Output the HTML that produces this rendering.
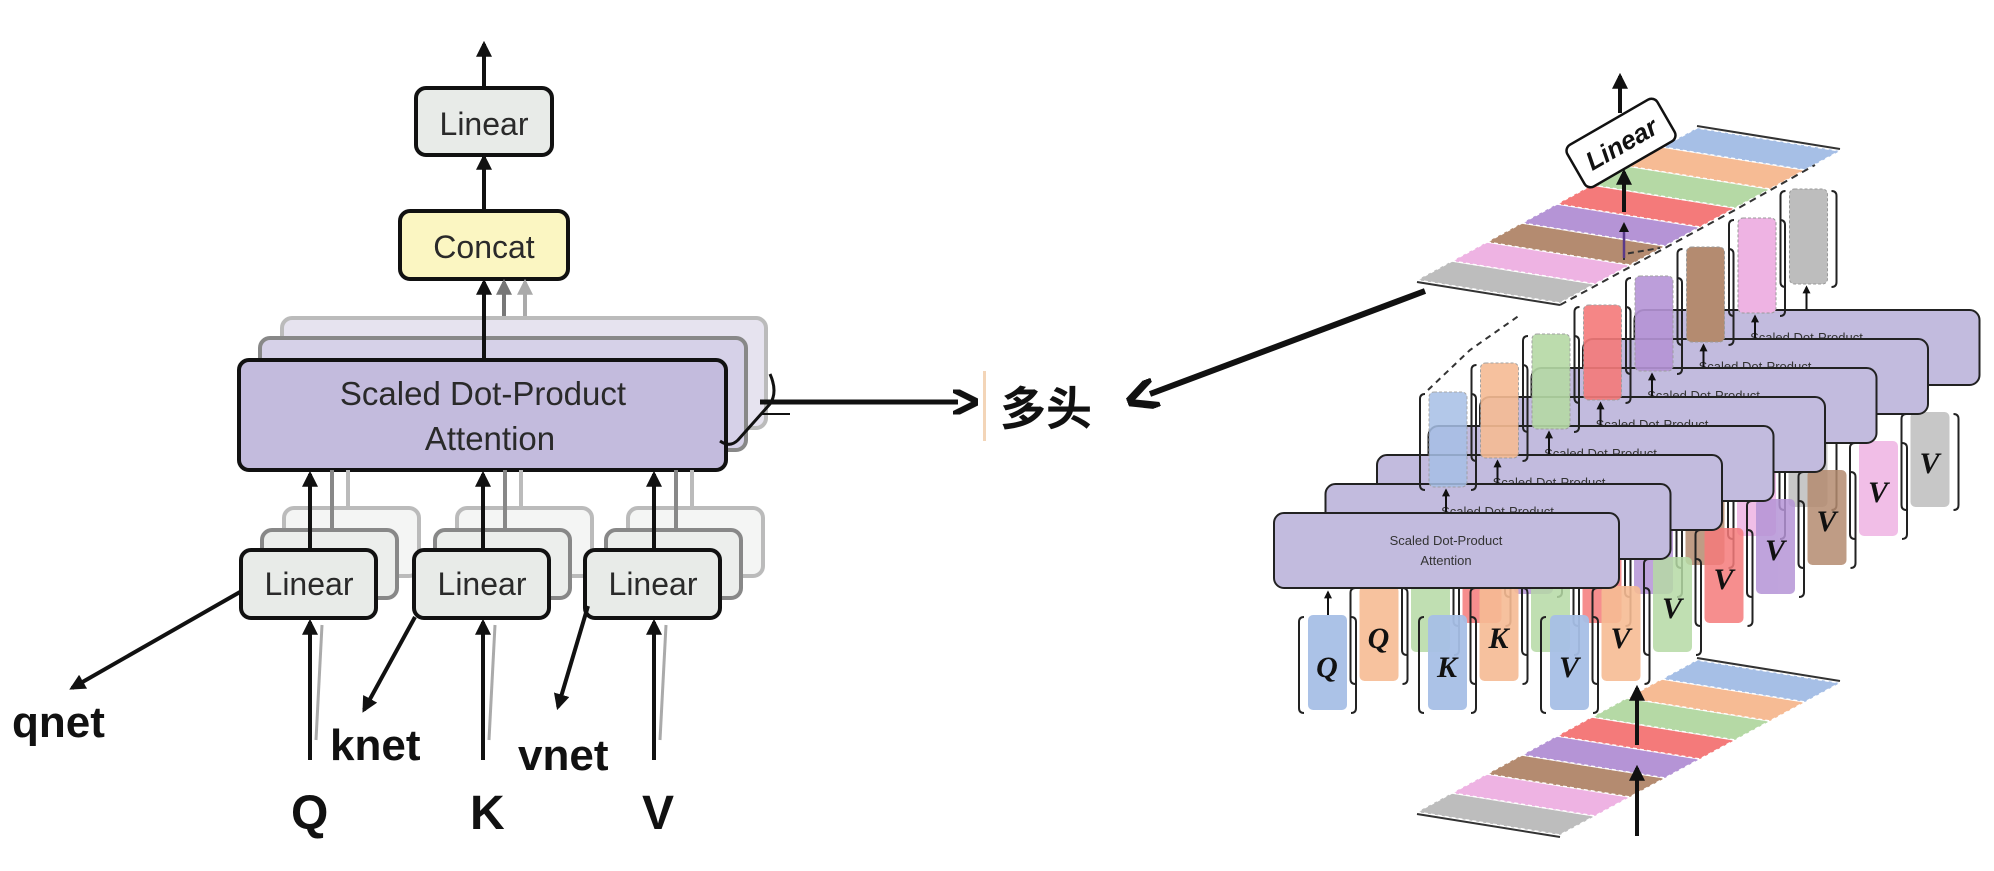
<!DOCTYPE html>
<html><head><meta charset="utf-8"><style>
html,body{margin:0;padding:0;background:#fff;}
svg{display:block;}
.t{font-family:"Liberation Sans",sans-serif;fill:#2a2a2a;}
.b{font-family:"Liberation Sans","Noto Sans CJK SC",sans-serif;font-weight:bold;fill:#111;}
.s{font-family:"Liberation Sans",sans-serif;fill:#333;font-size:13px;}
.L{font-family:"Liberation Serif",serif;font-style:italic;font-weight:bold;fill:#111;font-size:30px;}
</style></head><body>
<svg width="1994" height="871" viewBox="0 0 1994 871" xmlns="http://www.w3.org/2000/svg">
<defs>
<marker id="ah" viewBox="0 0 10 10" refX="8" refY="5" markerWidth="4" markerHeight="4" orient="auto"><path d="M0,0 L10,5 L0,10 z" fill="#111"/></marker>
<marker id="ag" viewBox="0 0 10 10" refX="8" refY="5" markerWidth="4" markerHeight="4" orient="auto"><path d="M0,0 L10,5 L0,10 z" fill="#777"/></marker>
<marker id="al" viewBox="0 0 10 10" refX="8" refY="5" markerWidth="4" markerHeight="4" orient="auto"><path d="M0,0 L10,5 L0,10 z" fill="#aaa"/></marker>
<marker id="ao" viewBox="0 0 10 10" refX="2" refY="5" markerWidth="5" markerHeight="5" orient="auto"><path d="M0,0 L10,5 L0,10" fill="none" stroke="#111" stroke-width="2.5"/></marker>
<g id="br" fill="none" stroke="#222" stroke-width="2">
  <path d="M1304,617 q-5,0 -5,5 v86 q0,5 5,5"/><path d="M1351,617 q5,0 5,5 v86 q0,5 -5,5"/>
  <path d="M1424,617 q-5,0 -5,5 v86 q0,5 5,5"/><path d="M1471,617 q5,0 5,5 v86 q0,5 -5,5"/>
  <path d="M1546,617 q-5,0 -5,5 v86 q0,5 5,5"/><path d="M1593,617 q5,0 5,5 v86 q0,5 -5,5"/>
</g>
<g id="bo" fill="none" stroke="#222" stroke-width="2">
  <path d="M1425,394 q-5,0 -5,5 v86 q0,5 5,5"/><path d="M1471,394 q5,0 5,5 v86 q0,5 -5,5"/>
</g>
</defs>

<!-- LEFT DIAGRAM -->
<line x1="484" y1="88" x2="484" y2="44" stroke="#111" stroke-width="4" marker-end="url(#ah)"/>
<rect x="416" y="88" width="136" height="67" rx="10" fill="#e8ebe8" stroke="#111" stroke-width="4"/>
<text x="484" y="135" class="t" font-size="32" text-anchor="middle">Linear</text>
<line x1="484" y1="211" x2="484" y2="157" stroke="#111" stroke-width="4" marker-end="url(#ah)"/>
<rect x="400" y="211" width="168" height="68" rx="10" fill="#fbf6c2" stroke="#111" stroke-width="4"/>
<text x="484" y="258" class="t" font-size="32" text-anchor="middle">Concat</text>
<line x1="525" y1="318" x2="525" y2="282" stroke="#aaa" stroke-width="4" marker-end="url(#al)"/>
<line x1="504" y1="338" x2="504" y2="282" stroke="#777" stroke-width="4" marker-end="url(#ag)"/>
<rect x="282" y="318" width="484" height="110" rx="10" fill="#e6e3ef" stroke="#bbb" stroke-width="4"/>
<rect x="260" y="338" width="486" height="112" rx="10" fill="#d6d1e8" stroke="#888" stroke-width="4"/>
<line x1="484" y1="360" x2="484" y2="282" stroke="#111" stroke-width="4" marker-end="url(#ah)"/>
<rect x="239" y="360" width="487" height="110" rx="10" fill="#c3bbdd" stroke="#111" stroke-width="4"/>
<text x="483" y="405" class="t" font-size="33" text-anchor="middle">Scaled Dot-Product</text>
<text x="490" y="450" class="t" font-size="33" text-anchor="middle">Attention</text>
<path d="M720,441 Q730,448 738,440 L770,404 Q778,392 770,374" fill="none" stroke="#111" stroke-width="3"/>
<line x1="760" y1="414" x2="790" y2="414" stroke="#111" stroke-width="2"/>
<line x1="760" y1="402" x2="958" y2="402" stroke="#111" stroke-width="5" marker-end="url(#ao)"/>
<rect x="983" y="371" width="3" height="70" fill="#f3d5b8"/>
<text x="1000" y="425" class="b" font-size="46">多头</text>

<g id="lin">
<rect x="284" y="508" width="135" height="68" rx="10" fill="#f4f5f4" stroke="#bbb" stroke-width="4"/>
<rect x="262" y="530" width="135" height="68" rx="10" fill="#eceeec" stroke="#888" stroke-width="4"/>
<line x1="348" y1="508" x2="348" y2="470" stroke="#bbb" stroke-width="4"/>
<line x1="332" y1="530" x2="332" y2="470" stroke="#888" stroke-width="4"/>
<line x1="310" y1="550" x2="310" y2="474" stroke="#111" stroke-width="4" marker-end="url(#ah)"/>
<rect x="241" y="550" width="135" height="68" rx="10" fill="#e8ebe8" stroke="#111" stroke-width="4"/>
<text x="309" y="595" class="t" font-size="32" text-anchor="middle">Linear</text>
<line x1="316" y1="740" x2="322" y2="625" stroke="#aaa" stroke-width="3"/>
<line x1="310" y1="760" x2="310" y2="622" stroke="#111" stroke-width="4" marker-end="url(#ah)"/>
</g>
<use href="#lin" x="173"/>
<use href="#lin" x="344"/>
<line x1="240" y1="592" x2="72" y2="688" stroke="#111" stroke-width="4" marker-end="url(#ah)"/>
<line x1="415" y1="617" x2="364" y2="710" stroke="#111" stroke-width="4" marker-end="url(#ah)"/>
<line x1="588" y1="606" x2="558" y2="707" stroke="#111" stroke-width="4" marker-end="url(#ah)"/>
<text x="12" y="737" class="b" font-size="44">qnet</text>
<text x="330" y="760" class="b" font-size="44">knet</text>
<text x="518" y="770" class="b" font-size="44">vnet</text>
<text x="291" y="829" class="b" font-size="48">Q</text>
<text x="470" y="829" class="b" font-size="48">K</text>
<text x="642" y="829" class="b" font-size="48">V</text>

<line x1="1425" y1="291" x2="1150" y2="394" stroke="#111" stroke-width="6" marker-end="url(#ao)"/>

<!-- top plane -->
<g stroke="#fff" stroke-width="1.5" stroke-dasharray="4,3">
<polygon points="1417,280 1560,303 1595,284 1452,261" fill="#bdbdbd"/>
<polygon points="1452,261 1595,284 1630,265 1487,242" fill="#eeb3e3"/>
<polygon points="1487,242 1630,265 1665,246 1522,223" fill="#b48b70"/>
<polygon points="1522,223 1665,246 1700,227 1557,204" fill="#b594d6"/>
<polygon points="1557,204 1700,227 1735,208 1592,185" fill="#f47a7a"/>
<polygon points="1592,185 1735,208 1770,189 1627,166" fill="#b5d9a5"/>
<polygon points="1627,166 1770,189 1805,170 1662,147" fill="#f6bb94"/>
<polygon points="1662,147 1805,170 1840,151 1697,128" fill="#a6bfe6"/>
</g>
<line x1="1417" y1="282" x2="1560" y2="305" stroke="#333" stroke-width="2"/>
<line x1="1697" y1="126" x2="1840" y2="149" stroke="#333" stroke-width="2"/>
<path d="M1560,305 L1735,210 L1815,165" fill="none" stroke="#333" stroke-width="2" stroke-dasharray="7,5"/>
<path d="M1624,260 L1624,254 L1660,248" fill="none" stroke="#333" stroke-width="2" stroke-dasharray="6,4"/>
<line x1="1624" y1="258" x2="1624" y2="224" stroke="#5a3a8a" stroke-width="2.5" marker-end="url(#ah)"/>
<line x1="1624" y1="212" x2="1624" y2="172" stroke="#111" stroke-width="4" marker-end="url(#ah)"/>
<g transform="translate(1621,143) rotate(-30)">
<rect x="-52" y="-24" width="104" height="48" rx="7" fill="#fff" stroke="#111" stroke-width="2.5"/>
<text x="0" y="10" font-family="Liberation Sans,sans-serif" font-weight="bold" font-style="italic" font-size="26" text-anchor="middle" fill="#111">Linear</text>
</g>
<line x1="1620" y1="113" x2="1620" y2="76" stroke="#111" stroke-width="4" marker-end="url(#ah)"/>
<path d="M1428,390 L1470,350 L1520,315" fill="none" stroke="#333" stroke-width="2" stroke-dasharray="6,5"/>

<!-- bottom plane -->
<g stroke="#fff" stroke-width="1.5" stroke-dasharray="4,3">
<polygon points="1417,812 1560,835 1595,816 1452,793" fill="#bdbdbd"/>
<polygon points="1452,793 1595,816 1630,797 1487,774" fill="#eeb3e3"/>
<polygon points="1487,774 1630,797 1665,778 1522,755" fill="#b48b70"/>
<polygon points="1522,755 1665,778 1700,759 1557,736" fill="#b594d6"/>
<polygon points="1557,736 1700,759 1735,740 1592,717" fill="#f47a7a"/>
<polygon points="1592,717 1735,740 1770,721 1627,698" fill="#b5d9a5"/>
<polygon points="1627,698 1770,721 1805,702 1662,679" fill="#f6bb94"/>
<polygon points="1662,679 1805,702 1840,683 1697,660" fill="#a6bfe6"/>
</g>
<line x1="1417" y1="814" x2="1560" y2="837" stroke="#333" stroke-width="2"/>
<line x1="1697" y1="658" x2="1840" y2="681" stroke="#333" stroke-width="2"/>
<line x1="1637" y1="836" x2="1637" y2="768" stroke="#111" stroke-width="4" marker-end="url(#ah)"/>
<line x1="1637" y1="745" x2="1637" y2="688" stroke="#111" stroke-width="4" marker-end="url(#ah)"/>

<!-- heads back to front -->
<g transform="translate(360.5,-203)">
 <rect x="1429" y="392" width="38" height="95" rx="5" fill="#bdbdbd" stroke="#999" stroke-dasharray="3,2"/><use href="#bo"/>
 <line x1="1446" y1="513" x2="1446" y2="490" stroke="#111" stroke-width="2" marker-end="url(#ah)"/>
 <rect x="1274" y="513" width="345" height="75" rx="10" fill="#c2bbde" stroke="#222" stroke-width="2"/>
 <text x="1446" y="545" class="s" text-anchor="middle">Scaled Dot-Product</text>
 <g opacity="0.85"><rect x="1308" y="615" width="39" height="95" rx="5" fill="#bdbdbd"/><rect x="1428" y="615" width="39" height="95" rx="5" fill="#bdbdbd"/><rect x="1550" y="615" width="39" height="95" rx="5" fill="#bdbdbd"/></g>
 <use href="#br"/>
 <text x="1569" y="676" class="L" text-anchor="middle">V</text>
</g>
<g transform="translate(309,-174)">
 <rect x="1429" y="392" width="38" height="95" rx="5" fill="#eeb3e3" stroke="#999" stroke-dasharray="3,2"/><use href="#bo"/>
 <line x1="1446" y1="513" x2="1446" y2="490" stroke="#111" stroke-width="2" marker-end="url(#ah)"/>
 <rect x="1274" y="513" width="345" height="75" rx="10" fill="#c2bbde" stroke="#222" stroke-width="2"/>
 <text x="1446" y="545" class="s" text-anchor="middle">Scaled Dot-Product</text>
 <g opacity="0.85"><rect x="1308" y="615" width="39" height="95" rx="5" fill="#eeb3e3"/><rect x="1428" y="615" width="39" height="95" rx="5" fill="#eeb3e3"/><rect x="1550" y="615" width="39" height="95" rx="5" fill="#eeb3e3"/></g>
 <use href="#br"/>
 <text x="1569" y="676" class="L" text-anchor="middle">V</text>
</g>
<g transform="translate(257.5,-145)">
 <rect x="1429" y="392" width="38" height="95" rx="5" fill="#b48b70" stroke="#999" stroke-dasharray="3,2"/><use href="#bo"/>
 <line x1="1446" y1="513" x2="1446" y2="490" stroke="#111" stroke-width="2" marker-end="url(#ah)"/>
 <rect x="1274" y="513" width="345" height="75" rx="10" fill="#c2bbde" stroke="#222" stroke-width="2"/>
 <text x="1446" y="545" class="s" text-anchor="middle">Scaled Dot-Product</text>
 <g opacity="0.85"><rect x="1308" y="615" width="39" height="95" rx="5" fill="#b48b70"/><rect x="1428" y="615" width="39" height="95" rx="5" fill="#b48b70"/><rect x="1550" y="615" width="39" height="95" rx="5" fill="#b48b70"/></g>
 <use href="#br"/>
 <text x="1569" y="676" class="L" text-anchor="middle">V</text>
</g>
<g transform="translate(206,-116)">
 <rect x="1429" y="392" width="38" height="95" rx="5" fill="#b594d6" stroke="#999" stroke-dasharray="3,2" opacity="0.9"/><use href="#bo"/>
 <line x1="1446" y1="513" x2="1446" y2="490" stroke="#111" stroke-width="2" marker-end="url(#ah)"/>
 <rect x="1274" y="513" width="345" height="75" rx="10" fill="#c2bbde" stroke="#222" stroke-width="2"/>
 <text x="1446" y="545" class="s" text-anchor="middle">Scaled Dot-Product</text>
 <g opacity="0.85"><rect x="1308" y="615" width="39" height="95" rx="5" fill="#b594d6"/><rect x="1428" y="615" width="39" height="95" rx="5" fill="#b594d6"/><rect x="1550" y="615" width="39" height="95" rx="5" fill="#b594d6"/></g>
 <use href="#br"/>
 <text x="1569" y="676" class="L" text-anchor="middle">V</text>
</g>
<g transform="translate(154.5,-87)">
 <rect x="1429" y="392" width="38" height="95" rx="5" fill="#f47a7a" stroke="#999" stroke-dasharray="3,2" opacity="0.9"/><use href="#bo"/>
 <line x1="1446" y1="513" x2="1446" y2="490" stroke="#111" stroke-width="2" marker-end="url(#ah)"/>
 <rect x="1274" y="513" width="345" height="75" rx="10" fill="#c2bbde" stroke="#222" stroke-width="2"/>
 <text x="1446" y="545" class="s" text-anchor="middle">Scaled Dot-Product</text>
 <g opacity="0.85"><rect x="1308" y="615" width="39" height="95" rx="5" fill="#f47a7a"/><rect x="1428" y="615" width="39" height="95" rx="5" fill="#f47a7a"/><rect x="1550" y="615" width="39" height="95" rx="5" fill="#f47a7a"/></g>
 <use href="#br"/>
 <text x="1569" y="676" class="L" text-anchor="middle">V</text>
</g>
<g transform="translate(103,-58)">
 <rect x="1429" y="392" width="38" height="95" rx="5" fill="#b5d9a5" stroke="#999" stroke-dasharray="3,2" opacity="0.9"/><use href="#bo"/>
 <line x1="1446" y1="513" x2="1446" y2="490" stroke="#111" stroke-width="2" marker-end="url(#ah)"/>
 <rect x="1274" y="513" width="345" height="75" rx="10" fill="#c2bbde" stroke="#222" stroke-width="2"/>
 <text x="1446" y="545" class="s" text-anchor="middle">Scaled Dot-Product</text>
 <g opacity="0.85"><rect x="1308" y="615" width="39" height="95" rx="5" fill="#b5d9a5"/><rect x="1428" y="615" width="39" height="95" rx="5" fill="#b5d9a5"/><rect x="1550" y="615" width="39" height="95" rx="5" fill="#b5d9a5"/></g>
 <use href="#br"/>
 <text x="1327" y="632" class="L" text-anchor="middle">Q</text>
 <text x="1447" y="632" class="L" text-anchor="middle">K</text>
 <text x="1569" y="676" class="L" text-anchor="middle">V</text>
</g>
<g transform="translate(51.5,-29)">
 <rect x="1429" y="392" width="38" height="95" rx="5" fill="#f6bb94" stroke="#999" stroke-dasharray="3,2" opacity="0.9"/><use href="#bo"/>
 <line x1="1446" y1="513" x2="1446" y2="490" stroke="#111" stroke-width="2" marker-end="url(#ah)"/>
 <rect x="1274" y="513" width="345" height="75" rx="10" fill="#c2bbde" stroke="#222" stroke-width="2"/>
 <text x="1446" y="545" class="s" text-anchor="middle">Scaled Dot-Product</text>
 <g opacity="0.9"><rect x="1308" y="615" width="39" height="95" rx="5" fill="#f6bb94"/><rect x="1428" y="615" width="39" height="95" rx="5" fill="#f6bb94"/><rect x="1550" y="615" width="39" height="95" rx="5" fill="#f6bb94"/></g>
 <use href="#br"/>
 <text x="1327" y="677" class="L" text-anchor="middle">Q</text>
 <text x="1447" y="677" class="L" text-anchor="middle">K</text>
 <text x="1569" y="677" class="L" text-anchor="middle">V</text>
</g>
<g>
 <rect x="1429" y="392" width="38" height="95" rx="5" fill="#a6bfe6" stroke="#999" stroke-dasharray="3,2" opacity="0.85"/><use href="#bo"/>
 <line x1="1446" y1="513" x2="1446" y2="490" stroke="#111" stroke-width="2" marker-end="url(#ah)"/>
 <rect x="1274" y="513" width="345" height="75" rx="10" fill="#c2bbde" stroke="#222" stroke-width="2"/>
 <text x="1446" y="545" class="s" text-anchor="middle">Scaled Dot-Product</text>
 <text x="1446" y="565" class="s" text-anchor="middle">Attention</text>
 <line x1="1328" y1="615" x2="1328" y2="592" stroke="#111" stroke-width="2" marker-end="url(#ah)"/>
 <g opacity="0.95"><rect x="1308" y="615" width="39" height="95" rx="5" fill="#a6bfe6"/><rect x="1428" y="615" width="39" height="95" rx="5" fill="#a6bfe6"/><rect x="1550" y="615" width="39" height="95" rx="5" fill="#a6bfe6"/></g>
 <use href="#br"/>
 <text x="1327" y="677" class="L" text-anchor="middle">Q</text>
 <text x="1447" y="677" class="L" text-anchor="middle">K</text>
 <text x="1569" y="677" class="L" text-anchor="middle">V</text>
</g>
</svg>
</body></html>
